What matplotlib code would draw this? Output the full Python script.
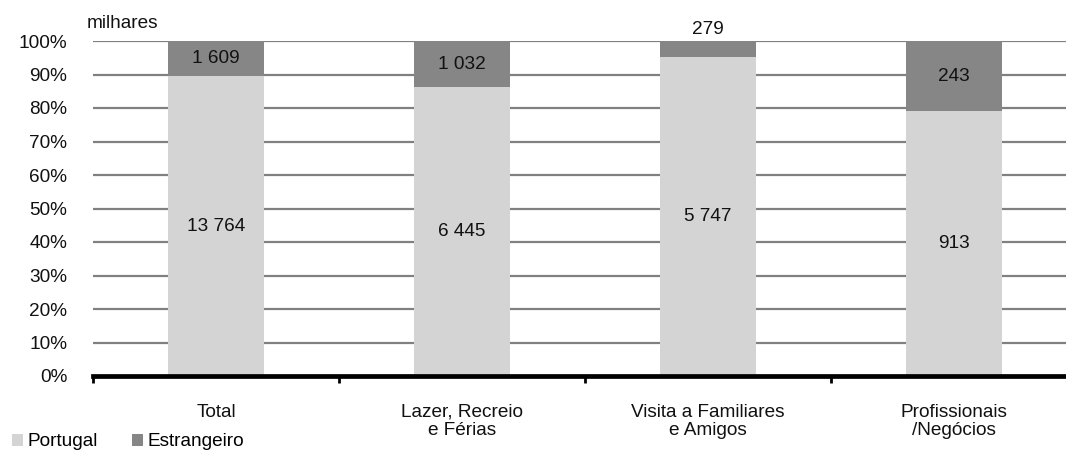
import matplotlib
matplotlib.use("Agg")
import matplotlib.pyplot as plt
from matplotlib.patches import Patch
import numpy as np

categories = ["Total", "Lazer, Recreio\ne Férias", "Visita a Familiares\ne Amigos", "Profissionais\n/Negócios"]
portugal = [13764, 6445, 5747, 913]
estrangeiro = [1609, 1032, 279, 243]
series_names = ["Portugal", "Estrangeiro"]
yticks = [0, 10, 20, 30, 40, 50, 60, 70, 80, 90, 100]

plt.rcParams["font.family"] = ["Liberation Sans", "DejaVu Sans"]
FS = 13.7
C_PT = "#d4d4d4"
C_EST = "#868686"

W, H = 1066, 455
fig = plt.figure(figsize=(W / 100, H / 100), dpi=100)
left, right, bottom, top = 93, 1066, 376, 41
ax = fig.add_axes([left / W, 1 - bottom / H, (right - left) / W, (bottom - top) / H])

pt = np.array(portugal, dtype=float)
es = np.array(estrangeiro, dtype=float)
tot = pt + es
pt_pct = pt / tot * 100
es_pct = es / tot * 100
x = np.arange(len(categories))
bw = 0.394

ax.bar(x, pt_pct, width=bw, color=C_PT, zorder=3, linewidth=0)
ax.bar(x, es_pct, width=bw, bottom=pt_pct, color=C_EST, zorder=3, linewidth=0)

def fmt(v):
    return f"{int(v):,}".replace(",", " ")

for i in range(len(x)):
    ax.text(x[i], pt_pct[i] / 2, fmt(pt[i]), ha="center", va="center", fontsize=FS, color="#111111", zorder=4)
    if es_pct[i] < 6:
        ax.text(x[i], 100 + 3.4, fmt(es[i]), ha="center", va="center", fontsize=FS, color="#111111", zorder=4, clip_on=False)
    else:
        ax.text(x[i], pt_pct[i] + es_pct[i] / 2, fmt(es[i]), ha="center", va="center", fontsize=FS, color="#111111", zorder=4)

ax.set_ylim(0, 100)
ax.set_xlim(-0.5, -0.5 + (right - left) / 246)
ax.set_yticks(yticks)
ax.set_yticklabels([f"{t}%" for t in yticks], fontsize=FS, color="#111111")
ax.yaxis.grid(True, color="#808080", linewidth=1.6, zorder=1)
ax.tick_params(axis="y", length=0, pad=18.5)

ax.set_xticks(x)
ax.set_xticklabels(categories, fontsize=FS, color="#111111", linespacing=1.1)
ax.tick_params(axis="x", which="major", length=0, pad=20)
ax.set_xticks(np.arange(len(categories)) - 0.5, minor=True)
ax.tick_params(axis="x", which="minor", length=5, width=2, color="black", direction="out")

for s in ["left", "right", "top"]:
    ax.spines[s].set_visible(False)
ax.spines["bottom"].set_linewidth(3.4)
ax.spines["bottom"].set_color("black")
ax.spines["bottom"].set_zorder(5)

fig.text(87 / W, 1 - 24 / H, "milhares", fontsize=FS, ha="left", va="center", color="#111111")

handles = [Patch(facecolor=C_PT, edgecolor="none"), Patch(facecolor=C_EST, edgecolor="none")]
fig.legend(handles, series_names, loc="center left", bbox_to_anchor=(12 / W, 1 - 442 / H),
           ncol=2, frameon=False, fontsize=FS, handlelength=0.6, handleheight=0.6,
           handletextpad=0.2, columnspacing=1.8, borderpad=0, borderaxespad=0)

fig.savefig("out.png", dpi=100)
